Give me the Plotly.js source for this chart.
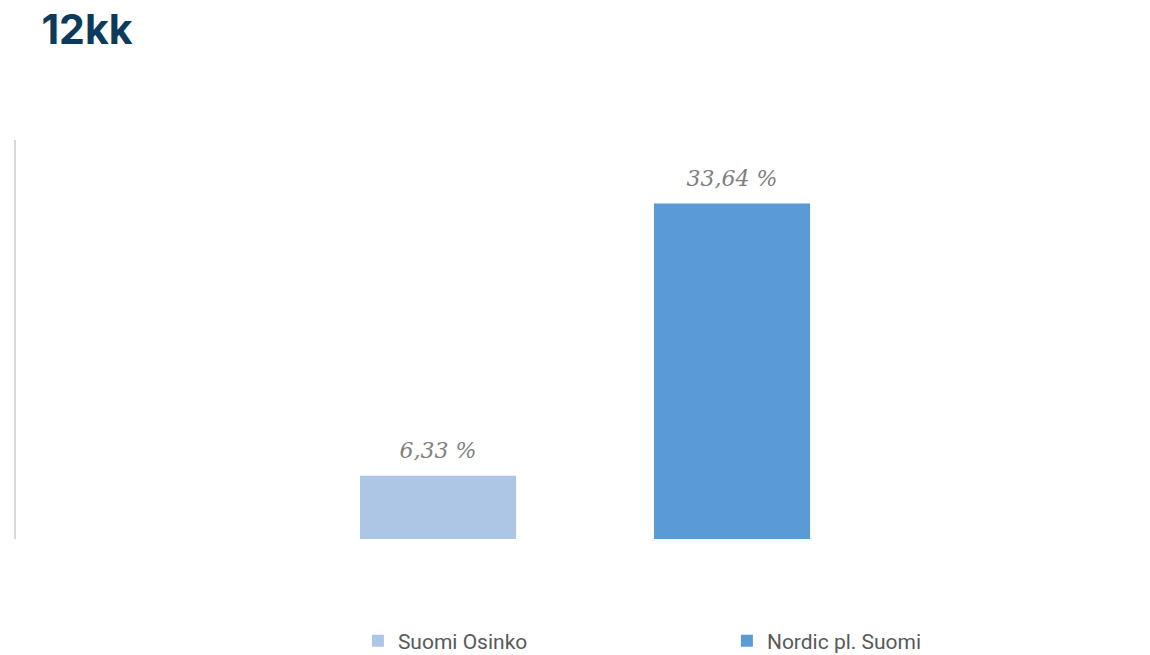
<!DOCTYPE html>
<html>
<head>
<meta charset="utf-8">
<script src="https://cdn.plot.ly/plotly-3.0.1.min.js"></script>
<style>html,body{margin:0;padding:0;background:#fff;}#chart{width:1150px;height:655px;}</style>
</head>
<body>
<div id="chart"></div>
<script>
const chartTitle = "12kk";
const category = ["12kk"];
const seriesNames = ["Suomi Osinko", "Nordic pl. Suomi"];
const suomiOsinko = [6.33];
const nordicPlSuomi = [33.64];
const seriesColors = ["#adc6e5", "#5b9bd5"];

function fmt(v) { return v.toFixed(2).replace('.', ',') + ' %'; }

const seriesValues = [suomiOsinko, nordicPlSuomi];
const barTraces = seriesValues.map((vals, i) => ({
  type: 'bar',
  name: seriesNames[i],
  x: category,
  y: vals,
  offsetgroup: String(i),
  marker: {color: seriesColors[i]},
  hoverinfo: 'skip'
}));
const labelTraces = seriesValues.map((vals, i) => ({
  type: 'scatter',
  mode: 'markers+text',
  x: category,
  y: vals,
  offsetgroup: String(i),
  text: vals.map(fmt),
  textposition: 'top center',
  textfont: {family: 'DejaVu Serif', style: 'italic', size: 22, color: '#7f7f7f'},
  marker: {size: 18, opacity: 0, color: '#ffffff'},
  cliponaxis: false,
  showlegend: false,
  hoverinfo: 'skip'
}));

const layout = {
  width: 1150, height: 655,
  paper_bgcolor: '#ffffff', plot_bgcolor: '#ffffff',
  margin: {l: 16, r: 0, t: 140, b: 116, autoexpand: false},
  title: {
    text: '<b>' + chartTitle + '</b>',
    x: 0.036, xanchor: 'left', xref: 'container',
    y: 0.955, yanchor: 'middle', yref: 'container',
    font: {family: 'Inter', size: 41, color: '#0c3a5b'}
  },
  barmode: 'group',
  bargap: 0.4815,
  bargroupgap: 0.469,
  scattermode: 'group',
  scattergap: 0.4815,
  xaxis: {visible: false, showticklabels: false, showgrid: false, zeroline: false, range: [-0.5018, 0.4982]},
  yaxis: {
    range: [0, 40], showgrid: false, zeroline: false, showticklabels: false,
    showline: true, linecolor: '#d9d9d9', linewidth: 2, ticks: ''
  },
  showlegend: true,
  legend: {
    orientation: 'h',
    x: 0.3015, xanchor: 'left', xref: 'paper',
    y: -0.256, yanchor: 'middle',
    font: {family: 'Roboto', size: 21, color: '#595959'},
    entrywidth: 324, entrywidthmode: 'pixels',
    traceorder: 'normal'
  }
};

Plotly.newPlot('chart', barTraces.concat(labelTraces), layout, {displayModeBar: false, staticPlot: true});
</script>
</body>
</html>
